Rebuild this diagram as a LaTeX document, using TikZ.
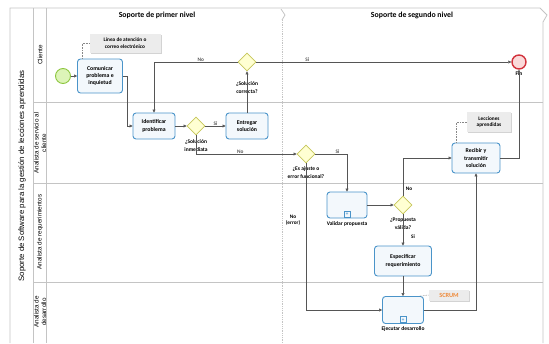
\documentclass[tikz,border=0pt]{standalone}
\usepackage{fontspec}
\setmainfont{Carlito}
\newfontfamily\arialf{Liberation Sans}
\usetikzlibrary{shapes.geometric, arrows.meta, positioning, calc, shadows}
\definecolor{taskline}{HTML}{4A94C9}
\definecolor{taskfill}{HTML}{F3F8FC}
\definecolor{gwline}{HTML}{C6C65A}
\definecolor{gwfill}{HTML}{FFFFD2}
\definecolor{startline}{HTML}{8DC63F}
\definecolor{startfill}{HTML}{DDF4B8}
\definecolor{endline}{HTML}{D2323C}
\definecolor{endfill}{HTML}{FADADA}
\definecolor{lanegray}{HTML}{C4C4C4}
\definecolor{flowgray}{HTML}{555555}
\definecolor{annfill}{HTML}{ECECEC}
\definecolor{scrumorange}{HTML}{EE8A3A}

\begin{document}
\begin{tikzpicture}[
    x=1pt, y=-1pt,
    every node/.style={font=\fontsize{5.5}{7}\selectfont},
    task/.style={rectangle, draw=taskline, line width=0.9pt, fill=taskfill, rounded corners=3pt, align=center, inner sep=1pt, font=\bfseries\fontsize{5.8}{7.3}\selectfont},
    gate/.style={diamond, draw=gwline, line width=0.8pt, fill=gwfill, minimum width=18pt, minimum height=18pt, inner sep=0pt},
    startev/.style={circle, draw=startline, line width=0.9pt, fill=startfill, minimum size=15pt, inner sep=0pt},
    endev/.style={circle, draw=endline, line width=1.4pt, fill=endfill, minimum size=14pt, inner sep=0pt},
    annot/.style={rectangle, fill=annfill, drop shadow={opacity=0.35, shadow xshift=1pt, shadow yshift=-1pt}, align=center, inner sep=1pt, font=\bfseries\fontsize{5.3}{6.8}\selectfont},
    subm/.style={rectangle, draw=taskline, line width=0.6pt, fill=taskfill, minimum size=6pt, inner sep=0pt, font=\bfseries\fontsize{5}{5}\selectfont, text=taskline},
    lbl/.style={align=center, fill=white, inner sep=0.5pt, font=\bfseries\fontsize{5.5}{8}\selectfont},
    flowlbl/.style={inner sep=0.5pt, font=\bfseries\fontsize{5.3}{6.5}\selectfont},
    lanelbl/.style={rotate=90, align=center, font=\arialf\fontsize{6.3}{7.5}\selectfont},
    arr/.style={flowgray, line width=0.5pt, -{Triangle[length=3pt, width=3pt]}},
    assoc/.style={densely dotted, flowgray!70, line width=0.6pt}
]
    \useasboundingbox (0,0) rectangle (549,343);

    % pool and lanes
    \draw[lanegray, line width=0.8pt] (10,343) -- (10,8) -- (540,8) -- (547,15) -- (543,22) -- (543,343);
    \draw[lanegray, line width=0.8pt] (33,8) -- (33,343);
    \draw[lanegray, line width=0.8pt] (46,8) -- (46,343);
    \draw[lanegray, line width=0.8pt] (33,102) -- (543,102);
    \draw[lanegray, line width=0.8pt] (33,183) -- (543,183);
    \draw[lanegray, line width=0.8pt] (33,282) -- (543,282);
    \draw[lanegray, line width=0.8pt] (281,9) -- (285,15) -- (282,20);
    \draw[lanegray, densely dotted, line width=0.8pt] (282,20) -- (282,343);

    \node[lanelbl, font=\arialf\fontsize{7.8}{9}\selectfont] (pool) at (22,176) {Soporte de Software para la gestión de lecciones aprendidas};
    \node[lanelbl] (lcli) at (40,55) {Cliente};
    \node[lanelbl] (lserv) at (40,143) {Analista de servicio al\\cliente};
    \node[lanelbl] (lreq) at (40,232) {Analista de requerimientos};
    \node[lanelbl] (ldes) at (40,312) {Analista de\\desarrollo};
    \node[font=\bfseries\fontsize{7.8}{9}\selectfont] (ph1) at (157,15) {Soporte de primer nivel};
    \node[font=\bfseries\fontsize{7.8}{9}\selectfont] (ph2) at (412,15) {Soporte de segundo nivel};

    % elements
    \node[startev] (start) at (63,76) {};
    \node[task, minimum width=45pt, minimum height=34pt] (com) at (100,76) {Comunicar\\problema e\\inquietud};
    \node[annot, minimum width=71pt, minimum height=19pt] (annlinea) at (125,43) {Línea de atención o\\correo electrónico};
    \node[task, minimum width=42pt, minimum height=26pt] (ident) at (154,126) {Identificar\\problema};
    \node[gate] (gw1) at (196,126) {};
    \node[lbl, below=4pt of gw1] (gw1lbl) {¿Solución\\inmediata};
    \node[task, minimum width=42pt, minimum height=26pt] (entr) at (247,126) {Entregar\\solución};
    \node[gate] (gw2) at (247,62) {};
    \node[lbl] (gw2lbl) at (247,88) {¿Solución\\correcta?};
    \node[endev] (fin) at (519,62) {};
    \node[lbl, below=1pt of fin] (finlbl) {Fin};
    \node[gate] (gw3) at (306,154) {};
    \node[lbl, below=3pt of gw3] (gw3lbl) {¿Es ajuste o\\error funcional?};
    \node[task, minimum width=40pt, minimum height=26pt] (valid) at (347,205) {};
    \node[subm, above=1pt of valid.south] (vmark) {+};
    \node[lbl, below=2pt of valid] (validlbl) {Validar propuesta};
    \node[gate] (gw4) at (403,205) {};
    \node[lbl, below=3pt of gw4] (gw4lbl) {¿Propuesta\\válida?};
    \node[task, minimum width=57pt, minimum height=30pt] (espec) at (403,261) {Especificar\\requerimiento};
    \node[task, minimum width=41pt, minimum height=27pt] (ejec) at (403,310) {};
    \node[subm, above=1pt of ejec.south] (emark) {+};
    \node[lbl, below=2pt of ejec] (ejeclbl) {Ejecutar desarrollo};
    \node[annot, minimum width=40pt, minimum height=11pt, text=scrumorange, font=\bfseries\fontsize{6.3}{7}\selectfont] (scrum) at (449,295) {SCRUM};
    \node[task, minimum width=48pt, minimum height=30pt] (recib) at (476,158) {Recibir y\\transmitir\\solución};
    \node[annot, minimum width=44pt, minimum height=20pt] (annlecc) at (489,122) {Lecciones\\aprendidas};

    % flows
    \draw[arr] (start) -- (com);
    \draw[arr] (com.east) -- ++(4,0) |- (ident.west);
    \draw[arr] (ident) -- (gw1);
    \draw[arr] (gw1) -- node[flowlbl, above] {Si} (entr);
    \draw[arr] (entr.north) -- (gw2.south);
    \draw[arr] (gw2.west) -| node[flowlbl, above, pos=0.22] {No} (ident.north);
    \draw[arr] (gw2.east) -- node[flowlbl, above, pos=0.2] {Si} (fin.west);
    \draw[arr] (gw1.south) |- node[flowlbl, above, pos=0.72] {No} (gw3.west);
    \draw[arr] (gw3.east) -| node[flowlbl, above, pos=0.35] {Si} (valid.north);
    \draw[arr] (gw3.south) |- (ejec.west);
    \draw[arr] (valid) -- (gw4);
    \draw[arr] (gw4.north) |- (recib.west);
    \draw[arr] (gw4.south) -- (espec.north);
    \draw[arr] (espec.south) -- (ejec.north);
    \draw[arr] (ejec.east) -| (recib.south);
    \draw[arr] (recib.east) -| (fin.south);
    \node[flowlbl, align=center] (noerr) at (293,220) {No\\(error)};
    \node[flowlbl] (gw4no) at (409,189) {No};
    \node[flowlbl] (gw4si) at (413,237) {Si};

    % associations
    \draw[assoc] ([xshift=5pt]com.north west) |- (annlinea.west);
    \draw[assoc] ([xshift=5pt]recib.north west) |- (annlecc.west);
    \draw[assoc] ([xshift=-4pt]ejec.north east) -- (scrum.west);
\end{tikzpicture}
\end{document}
